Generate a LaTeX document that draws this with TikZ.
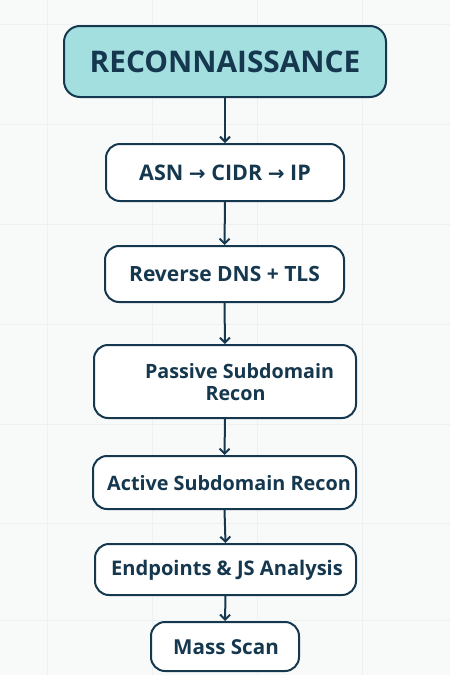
\documentclass[tikz,border=0pt]{standalone}
\usepackage{fontspec}
\setmainfont{Open Sans}
\newfontfamily\arrfont{DejaVu Sans}
\usetikzlibrary{arrows.meta}
\definecolor{navy}{HTML}{15384F}
\definecolor{teal}{HTML}{A4DFE0}
\definecolor{bg}{HTML}{F8FAFA}
\definecolor{gridc}{HTML}{EDF1F1}
\newcommand{\rarr}{{\arrfont\fontsize{20}{20}\selectfont →}}
\newcommand{\fs}[1]{\fontsize{#1}{23}\selectfont}
\tikzset{
  box/.style={draw=navy, line width=2pt, rounded corners=14pt, fill=white, inner sep=0pt},
  lbl/.style={text=navy, font=\bfseries\fontsize{21}{23}\selectfont, align=center, inner sep=0pt},
  arr/.style={draw=navy, line width=2pt, -{Straight Barb[length=5pt,width=10pt,line width=2pt]}},
}
\begin{document}
\begin{tikzpicture}[x=1pt,y=-1pt]
\fill[bg] (0,0) rectangle (450,675);
\useasboundingbox (0,0) rectangle (450,675);
\foreach \gx in {47,152,257,362} \draw[gridc, line width=0.8pt] (\gx,0) -- (\gx,675);
\foreach \gy in {24,124,224,324,424,523,620} \draw[gridc, line width=0.8pt] (0,\gy) -- (450,\gy);
% boxes
\node[box, fill=teal, rounded corners=16pt, minimum width=322pt, minimum height=71pt] (recon) at (225,61.5) {};
\node[text=navy, font=\bfseries\fontsize{29.8}{32}\selectfont, inner sep=0pt] (recont) at (225,62) {RECONNAISSANCE};
\node[box, minimum width=238pt, minimum height=57pt] (asn) at (225,172.5) {};
\node[lbl, font=\bfseries\fs{21.5}] (asnt) at (225,173) {ASN \rarr{} CIDR \rarr{} IP};
\node[box, minimum width=239pt, minimum height=56pt] (rdns) at (224.5,274) {};
\node[lbl] (rdnst) at (224.5,274) {Reverse DNS + TLS};
\node[box, minimum width=262pt, minimum height=73pt] (pass) at (225,381.5) {};
\node[lbl, font=\bfseries\fs{19.7}] (passt) at (239.5,382) {Passive Subdomain\\[-0.5pt]\hspace*{-8pt}Recon};
\node[box, minimum width=263pt, minimum height=53pt] (act) at (224.5,482.5) {};
\node[lbl, font=\bfseries\fs{19.8}] (actt) at (229,483) {Active Subdomain Recon};
\node[box, minimum width=261pt, minimum height=51pt] (endp) at (225.5,569.5) {};
\node[lbl, font=\bfseries\fs{20.1}] (endpt) at (227,570) {Endpoints \& JS Analysis};
\node[box, minimum width=148pt, minimum height=49pt] (mass) at (225,646.5) {};
\node[lbl, font=\bfseries\fs{20.6}] (masst) at (226,647) {Mass Scan};
% arrows
\draw[arr] (recon.south) -- (asn.north);
\draw[arr] (asn.south) -- (rdns.north);
\draw[arr] (rdns.south) -- (pass.north);
\draw[arr] (pass.south) -- (act.north);
\draw[arr] (act.south) -- (endp.north);
\draw[arr] (endp.south) -- (mass.north);
\end{tikzpicture}
\end{document}
